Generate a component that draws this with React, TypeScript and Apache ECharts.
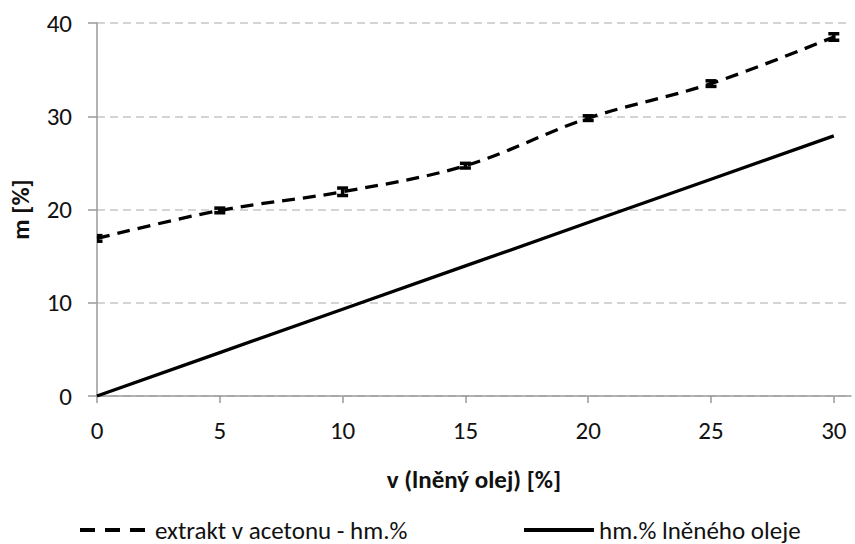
import React, { useEffect, useRef } from "react";
import * as echarts from "echarts";

// Linseed oil content in the mixture, v [%]
const oilShare = [0, 5, 10, 15, 20, 25, 30];
// Acetone extract, wt.% (mean) and its standard deviation
const extractMean = [16.9, 19.9, 21.9, 24.7, 29.8, 33.5, 38.5];
const extractErr = [0.3, 0.25, 0.4, 0.25, 0.25, 0.3, 0.35];
// Linseed oil expressed as wt.%
const oilWeight = [0, 4.65, 9.3, 13.95, 18.6, 23.25, 27.9];

const xTicks = [0, 5, 10, 15, 20, 25, 30];
const yTicks = [0, 10, 20, 30, 40];

const NAME_EXTRACT = "extrakt v acetonu - hm.%";
const NAME_OIL = "hm.% lněného oleje";

const FONT = "Carlito, Calibri, Lato, 'Open Sans', sans-serif";
const FS = 25;

export default function App() {
  const ref = useRef<HTMLDivElement>(null);

  useEffect(() => {
    if (!ref.current) return;
    const chart = echarts.init(ref.current, null, { renderer: "svg" });

    const extractData = oilShare.map((x, i) => [x, extractMean[i]]);
    const errorData = oilShare.map((x, i) => [x, extractMean[i], extractErr[i]]);
    const oilData = oilShare.map((x, i) => [x, oilWeight[i]]);

    const axisGray = "#9a9a9a";
    const legendBase = {
      top: 511,
      itemWidth: 70,
      itemHeight: 14,
      textStyle: { fontFamily: FONT, fontSize: FS, color: "#111", lineHeight: 28 },
      itemStyle: { opacity: 0 },
    };

    chart.setOption({
      animation: false,
      backgroundColor: "#ffffff",
      textStyle: { fontFamily: FONT },
      grid: { left: 97, right: 4, top: 23, bottom: 148, containLabel: false },
      xAxis: {
        type: "value",
        min: 0,
        max: 30.7,
        interval: 5,
        name: "v (lněný olej) [%]",
        nameLocation: "middle",
        nameGap: 71,
        nameTextStyle: { fontFamily: FONT, fontSize: FS, fontWeight: "bold", color: "#111" },
        axisLine: { show: true, onZero: false, lineStyle: { color: axisGray, width: 1.5 } },
        axisTick: { show: true, length: 7, customValues: xTicks, lineStyle: { color: axisGray, width: 1.5 } },
        axisLabel: { customValues: xTicks, fontFamily: FONT, fontSize: FS, color: "#111", margin: 22 },
        splitLine: { show: false },
      },
      yAxis: {
        type: "value",
        min: 0,
        max: 40,
        interval: 10,
        name: "m [%]",
        nameLocation: "middle",
        nameGap: 64,
        nameRotate: 90,
        nameTextStyle: { fontFamily: FONT, fontSize: FS, fontWeight: "bold", color: "#111" },
        axisLine: { show: true, lineStyle: { color: axisGray, width: 1.5 } },
        axisTick: { show: true, length: 9, customValues: yTicks, lineStyle: { color: axisGray, width: 1.5 } },
        axisLabel: { customValues: yTicks, fontFamily: FONT, fontSize: FS, color: "#111", margin: 25 },
        splitLine: { show: true, lineStyle: { color: "#c6c6c6", width: 1.5, type: [8, 5] } },
      },
      legend: [
        {
          ...legendBase,
          data: [NAME_EXTRACT],
          left: 73,
          lineStyle: { width: 4, type: [15, 10], cap: "butt" },
        },
        {
          ...legendBase,
          data: [NAME_OIL],
          left: 517,
          lineStyle: { width: 4 },
        },
      ],
      series: [
        {
          name: NAME_EXTRACT,
          type: "line",
          data: extractData,
          smooth: 0.35,
          symbol: "none",
          showSymbol: false,
          lineStyle: { color: "#000", width: 3.3, type: [13, 8], cap: "butt" },
          itemStyle: { color: "#000" },
          z: 3,
        },
        {
          name: NAME_OIL,
          type: "line",
          data: oilData,
          symbol: "none",
          showSymbol: false,
          lineStyle: { color: "#000", width: 3.3 },
          itemStyle: { color: "#000" },
          z: 3,
        },
        {
          name: "errors",
          type: "custom",
          data: errorData,
          clip: true,
          z: 4,
          renderItem: (params: any, api: any) => {
            const x = api.value(0);
            const y = api.value(1);
            const e = api.value(2);
            const top = api.coord([x, y + e]);
            const bot = api.coord([x, y - e]);
            const hw = 5.5;
            const style = { stroke: "#000", lineWidth: 3.5 };
            return {
              type: "group",
              children: [
                { type: "line", shape: { x1: top[0], y1: top[1], x2: bot[0], y2: bot[1] }, style },
                { type: "line", shape: { x1: top[0] - hw, y1: top[1], x2: top[0] + hw, y2: top[1] }, style },
                { type: "line", shape: { x1: bot[0] - hw, y1: bot[1], x2: bot[0] + hw, y2: bot[1] }, style },
              ],
            };
          },
        },
      ],
    });

    return () => chart.dispose();
  }, []);

  return (
    <div
      ref={ref}
      style={{ position: "absolute", left: 0, top: 0, width: 855, height: 544 }}
    />
  );
}
